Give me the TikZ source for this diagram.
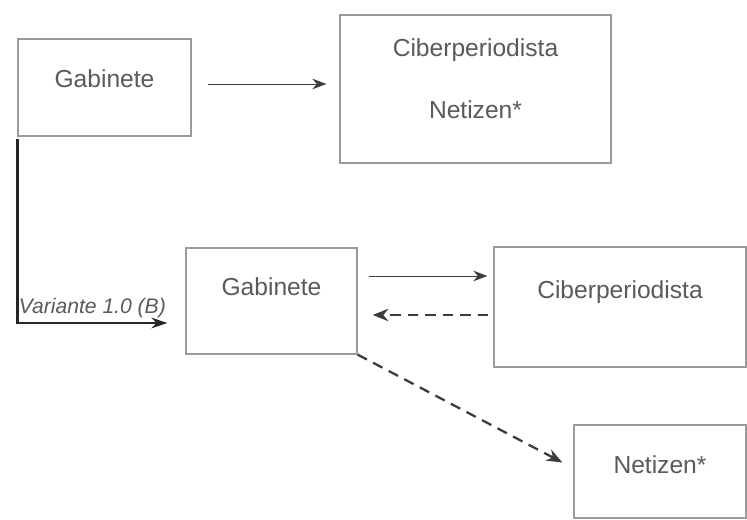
\documentclass[tikz,border=0pt]{standalone}
\usepackage{fontspec}
\setmainfont{Liberation Sans}
\usetikzlibrary{arrows.meta,positioning}
\definecolor{boxgray}{HTML}{9A9A9A}
\definecolor{txtgray}{HTML}{5A5A5A}
\definecolor{arrgray}{HTML}{3C3C3C}

\begin{document}
\begin{tikzpicture}[
    gbox/.style={rectangle, draw=boxgray, line width=0.7pt, inner sep=0pt},
    gtxt/.style={font=\fontsize{14}{17}\selectfont, text=txtgray, inner sep=0pt},
    arr/.style={arrgray, line width=0.5pt, -{Stealth[length=8pt, width=6pt]}},
    darr/.style={arrgray, line width=1.3pt, dash pattern=on 6pt off 4pt,
                 -{Stealth[length=9pt, width=7pt]}}
  ]

  % ---- Canvas ----
  \useasboundingbox[fill=white] (0,0) rectangle (14.94,10.4);

  % ---- Top row ----
  \node[gbox, minimum width=3.46cm, minimum height=1.94cm] (gab1) at (2.09,8.65) {};
  \node[gtxt] (gab1t) at ([yshift=-0.8cm]gab1.north) {Gabinete};

  \node[gbox, minimum width=5.42cm, minimum height=2.96cm] (cib1) at (9.51,8.62) {};
  \node[gtxt] (cib1t) at ([yshift=-0.72cm]cib1.north) {Ciberperiodista};
  \node[gtxt] (net1t) at ([yshift=-1.9cm]cib1.north) {Netizen*};

  % ---- Lower row ----
  \node[gbox, minimum width=3.42cm, minimum height=2.12cm] (gab2) at (5.43,4.38) {};
  \node[gtxt] (gab2t) at ([yshift=-0.78cm]gab2.north) {Gabinete};

  \node[gbox, minimum width=5.04cm, minimum height=2.4cm] (cib2) at (12.40,4.26) {};
  \node[gtxt] (cib2t) at ([yshift=-0.92cm]cib2.north) {Ciberperiodista};

  \node[gbox, minimum width=3.44cm, minimum height=1.86cm] (net2) at (13.2,0.97) {};
  \node[gtxt] (net2t) at ([yshift=-0.8cm]net2.north) {Netizen*};

  % ---- Connectors ----
  \draw[arr, shorten <=0.32cm, shorten >=0.26cm]
    ([yshift=0.07cm]gab1.east) -- ([yshift=0.07cm]gab1.east -| cib1.west);

  \draw[arr, shorten <=0.22cm, shorten >=0.12cm]
    ([yshift=0.5cm]gab2.east) -- ([yshift=0.5cm]gab2.east -| cib2.west);
  \draw[darr, shorten <=0.1cm, shorten >=0.3cm]
    ([yshift=-0.28cm]gab2.east -| cib2.west) -- ([yshift=-0.28cm]gab2.east);

  \draw[darr] (gab2.south east) -- ([xshift=-0.22cm,yshift=0.18cm]net2.west);

  % ---- Variant path ----
  \draw[black!85, line width=1.4pt, -{Stealth[length=9pt, width=6pt]}]
    ([yshift=-0.04cm]gab1.south west) |- ([xshift=-0.36cm,yshift=-0.44cm]gab2.west)
    node[pos=0.75, above=1pt, font=\fontsize{12}{14}\selectfont\itshape, text=txtgray,
         inner sep=1pt] (var) {Variante 1.0 (B)};

\end{tikzpicture}
\end{document}
